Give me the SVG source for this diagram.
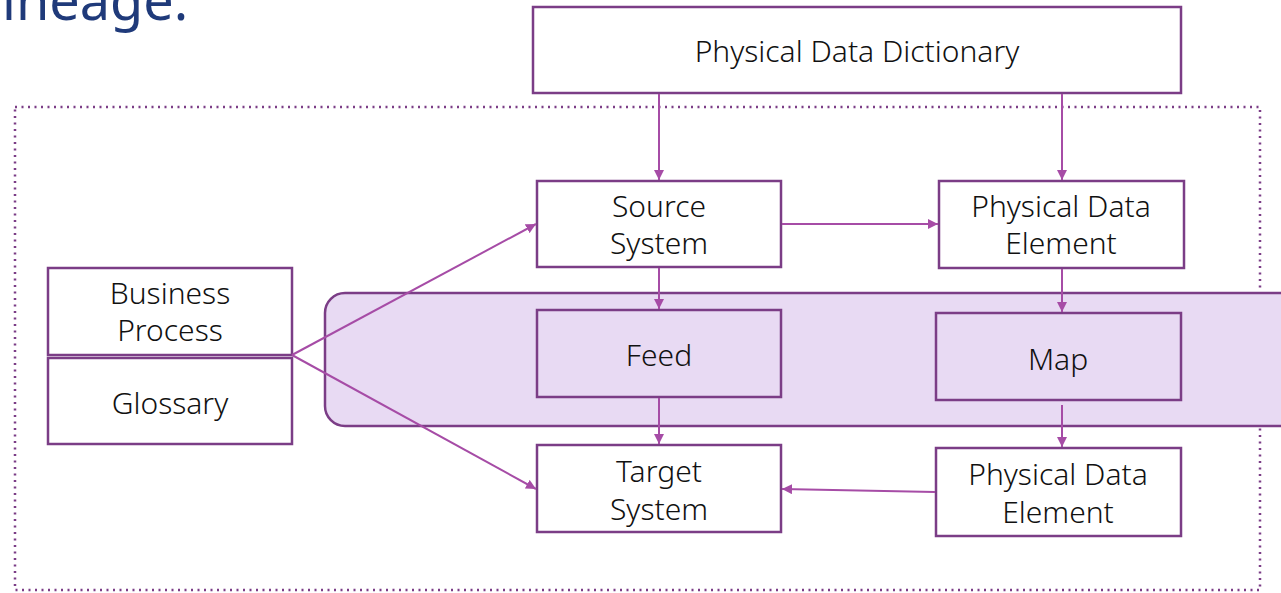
<svg xmlns="http://www.w3.org/2000/svg" width="1281" height="593" viewBox="0 0 1281 593">
  <style>
    .box { fill: #ffffff; stroke: #7b3d86; stroke-width: 2.5; }
    .inner { fill: #e8daf3; stroke: #7b3d86; stroke-width: 2.5; }
    .band { fill: #e8daf3; stroke: #7b3d86; stroke-width: 2.5; }
    .frame { fill: none; stroke: #7b3d86; stroke-width: 2.5; stroke-dasharray: 2 4.5; }
    .label { font-family: "Noto Sans", "Open Sans", sans-serif; font-size: 30px; font-weight: 300; fill: #111111; text-anchor: middle; }
    .title { font-family: "Noto Sans", "Open Sans", sans-serif; font-size: 54px; fill: #1f3a7a; }
    .link { fill: none; stroke: #a64ca6; stroke-width: 2; marker-end: url(#head); }
  </style>
  <defs>
    <marker id="head" viewBox="0 0 10 10" refX="10" refY="5" markerWidth="10" markerHeight="10" markerUnits="userSpaceOnUse" orient="auto">
      <path d="M0,0 L10,5 L0,10 z" fill="#a64ca6"/>
    </marker>
  </defs>

  <!-- heading -->
  <text class="title" x="2" y="20">ineage.</text>

  <!-- dotted lineage boundary -->
  <rect class="frame" x="15" y="107" width="1245" height="483"/>

  <!-- highlighted mapping band -->
  <rect class="band" x="325" y="293" width="980" height="133" rx="20" ry="20"/>

  <g id="physical-data-dictionary">
    <rect class="box" x="533" y="7" width="648" height="86"/>
    <text class="label" x="857" y="62">Physical Data Dictionary</text>
  </g>

  <g id="source-system">
    <rect class="box" x="537" y="181" width="244" height="86"/>
    <text class="label" x="659" y="217">Source</text>
    <text class="label" x="659" y="254">System</text>
  </g>

  <g id="physical-data-element-source">
    <rect class="box" x="939" y="181" width="245" height="87"/>
    <text class="label" x="1061" y="217">Physical Data</text>
    <text class="label" x="1061" y="254">Element</text>
  </g>

  <g id="business-process">
    <rect class="box" x="48" y="268" width="244" height="87"/>
    <text class="label" x="170" y="304">Business</text>
    <text class="label" x="170" y="341">Process</text>
  </g>

  <g id="glossary">
    <rect class="box" x="48" y="358" width="244" height="86"/>
    <text class="label" x="170" y="414">Glossary</text>
  </g>

  <g id="feed">
    <rect class="inner" x="537" y="310" width="244" height="87"/>
    <text class="label" x="659" y="366">Feed</text>
  </g>

  <g id="map">
    <rect class="inner" x="936" y="313" width="245" height="87"/>
    <text class="label" x="1058" y="370">Map</text>
  </g>

  <g id="target-system">
    <rect class="box" x="537" y="445" width="244" height="87"/>
    <text class="label" x="659" y="482">Target</text>
    <text class="label" x="659" y="520">System</text>
  </g>

  <g id="physical-data-element-target">
    <rect class="box" x="936" y="448" width="245" height="88"/>
    <text class="label" x="1058" y="485">Physical Data</text>
    <text class="label" x="1058" y="523">Element</text>
  </g>

  <g id="connectors">
    <line class="link" x1="659" y1="94" x2="659" y2="180"/>
    <line class="link" x1="1062" y1="94" x2="1062" y2="180"/>
    <line class="link" x1="782" y1="224" x2="938" y2="224"/>
    <line class="link" x1="659" y1="268" x2="659" y2="309"/>
    <line class="link" x1="1062" y1="269" x2="1062" y2="312"/>
    <line class="link" x1="659" y1="398" x2="659" y2="444"/>
    <line class="link" x1="1062" y1="405" x2="1062" y2="447"/>
    <line class="link" x1="935" y1="492" x2="782" y2="489"/>
    <line class="link" x1="292" y1="355" x2="536" y2="224"/>
    <line class="link" x1="292" y1="355" x2="536" y2="489"/>
  </g>
</svg>
